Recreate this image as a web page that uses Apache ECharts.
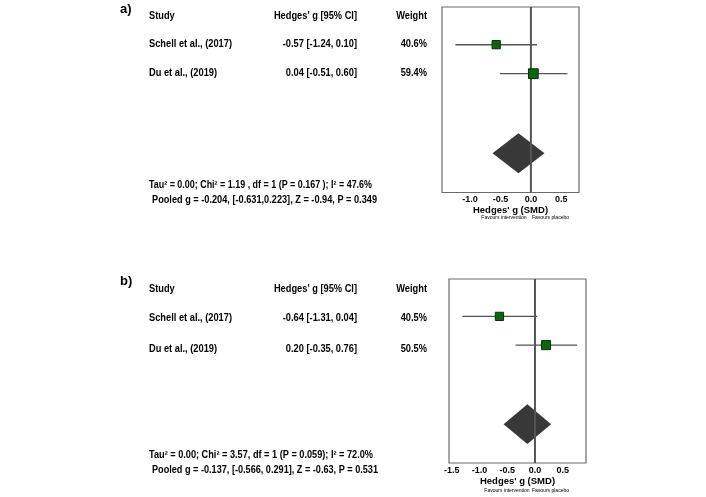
<!DOCTYPE html>
<html><head><meta charset="utf-8">
<script src="https://cdn.jsdelivr.net/npm/echarts@6/dist/echarts.min.js"></script>
<style>html,body{margin:0;padding:0;background:#fff}#c{width:706px;height:497px}</style>
</head><body><div id="c"></div>
<script>
// ---------- data ----------
const studies = ['Schell et al., (2017)', 'Du et al., (2019)'];
const estA = [-0.57, 0.04];
const loA = [-1.24, -0.51];
const hiA = [0.10, 0.60];
const weightA = [40.6, 59.4];
const pooledA = [-0.204, -0.631, 0.223]; // estimate, lower, upper
const hetA = 'Tau² = 0.00; Chi² = 1.19 , df = 1 (P = 0.167 ); I² = 47.6%';
const poolTextA = 'Pooled g = -0.204, [-0.631,0.223], Z = -0.94, P = 0.349';

const estB = [-0.64, 0.20];
const loB = [-1.31, -0.35];
const hiB = [0.04, 0.76];
const weightB = [40.5, 50.5];
const pooledB = [-0.137, -0.566, 0.291];
const hetB = 'Tau² = 0.00; Chi² = 3.57, df = 1 (P = 0.059); I² = 72.0%';
const poolTextB = 'Pooled g = -0.137, [-0.566, 0.291], Z = -0.63, P = 0.531';

const ticksA = [-1.0, -0.5, 0.0, 0.5];
const ticksB = [-1.5, -1.0, -0.5, 0.0, 0.5];
const axisTitle = "Hedges' g (SMD)";
const headers = ['Study', "Hedges' g [95% CI]", 'Weight'];
const favours = ['Favours intervention', 'Favours placebo'];

// ---------- layout ----------
const FAM = '"Liberation Sans", Arial, Helvetica, sans-serif';
const BOLD10 = 'bold 10px ' + FAM;
const ctx = document.createElement('canvas').getContext('2d');
function measure(s, font) { ctx.font = font; return ctx.measureText(s).width; }
const tableSx = 83 / measure(studies[0], BOLD10);

function txt(x, y, s, o) {
  o = o || {};
  const font = o.font || BOLD10;
  let sx = o.sx || 1;
  if (o.w) sx = o.w / measure(s, font);
  return { type: 'text', x: x, y: y, scaleX: sx, silent: true,
    style: { text: s, font: font, fill: '#000', align: o.align || 'left', verticalAlign: 'middle' } };
}
const ciStr = (e, l, h) => e.toFixed(2) + ' [' + l.toFixed(2) + ', ' + h.toFixed(2) + ']';

const rows = [1, 2];
const pooledRow = 4.75;
const diamondHalf = 0.69;

const panels = [
  { est: estA, lo: loA, hi: hiA, w: weightA, pooled: pooledA, ticks: ticksA,
    min: -1.46, max: 0.79, grid: { left: 442, top: 7, width: 137, height: 185.5 } },
  { est: estB, lo: loB, hi: hiB, w: weightB, pooled: pooledB, ticks: ticksB,
    min: -1.55, max: 0.92, grid: { left: 449, top: 279, width: 137, height: 184 } }
];

const grids = [], xAxes = [], yAxes = [], series = [];
panels.forEach((p, i) => {
  grids.push(Object.assign({ show: true, borderColor: '#6a6a6a', borderWidth: 1.2, backgroundColor: '#fff' }, p.grid));
  xAxes.push({ gridIndex: i, type: 'value', min: p.min, max: p.max,
    axisLine: { show: false }, axisTick: { show: false }, splitLine: { show: false },
    axisLabel: { customValues: p.ticks, formatter: v => v.toFixed(1), fontSize: 9, fontWeight: 'bold',
      color: '#000', margin: 3, fontFamily: FAM },
    name: axisTitle, nameLocation: 'middle', nameGap: 10,
    nameTextStyle: { fontWeight: 'bold', fontSize: 9.5, color: '#000', fontFamily: FAM } });
  yAxes.push({ gridIndex: i, type: 'value', min: -0.3, max: 6.1, inverse: true, show: false });

  // confidence interval lines
  series.push({ type: 'custom', xAxisIndex: i, yAxisIndex: i, z: 2, silent: true,
    data: p.est.map((e, k) => [p.lo[k], p.hi[k], rows[k]]),
    encode: { x: [0, 1], y: 2 },
    renderItem: (params, api) => {
      const a = api.coord([api.value(0), api.value(2)]);
      const b = api.coord([api.value(1), api.value(2)]);
      return { type: 'line', shape: { x1: a[0], y1: a[1], x2: b[0], y2: b[1] },
        style: { stroke: '#555', lineWidth: 1.4 } };
    } });
  // pooled diamond
  series.push({ type: 'custom', xAxisIndex: i, yAxisIndex: i, z: 3, silent: true,
    data: [[p.pooled[0], p.pooled[1], p.pooled[2], pooledRow]],
    encode: { x: [0, 1, 2], y: 3 },
    renderItem: (params, api) => {
      const e = api.value(0), l = api.value(1), h = api.value(2), y = api.value(3);
      const pts = [api.coord([l, y]), api.coord([e, y - diamondHalf]), api.coord([h, y]), api.coord([e, y + diamondHalf])];
      return { type: 'polygon', shape: { points: pts }, style: { fill: '#383838' } };
    } });
  // line of no effect
  series.push({ type: 'custom', xAxisIndex: i, yAxisIndex: i, z: 4, silent: true,
    data: [[0]], encode: { x: 0 },
    renderItem: (params, api) => {
      const c = params.coordSys;
      const x = api.coord([0, 0])[0];
      return { type: 'line', shape: { x1: x, y1: c.y, x2: x, y2: c.y + c.height },
        style: { stroke: '#555', lineWidth: 2 } };
    } });
  // study squares
  series.push({ type: 'scatter', xAxisIndex: i, yAxisIndex: i, z: 5, silent: true,
    symbol: 'rect', symbolSize: v => 5 + v[2] * 0.08,
    itemStyle: { color: '#0b670b', borderColor: '#05300a', borderWidth: 1, opacity: 1 },
    data: p.est.map((e, k) => [e, rows[k], p.w[k]]) });
});

// ---------- text table ----------
const g = [];
const tables = [
  { label: 'a)', labelY: 9, headY: 16, rowY: [44, 73], est: estA, lo: loA, hi: hiA, w: weightA,
    het: hetA, pool: poolTextA, hetY: 185.7, poolY: 200.7, hetW: 223, poolW: 225, favY: 218, favX: [504, 550.5] },
  { label: 'b)', labelY: 281, headY: 289, rowY: [318.5, 349], est: estB, lo: loB, hi: hiB, w: weightB,
    het: hetB, pool: poolTextB, hetY: 455.7, poolY: 470.7, hetW: 224, poolW: 226, favY: 490.3, favX: [507, 550.5] }
];
tables.forEach(t => {
  g.push(txt(120, t.labelY, t.label, { font: 'bold 13px ' + FAM }));
  g.push(txt(149, t.headY, headers[0], { sx: tableSx }));
  g.push(txt(357, t.headY, headers[1], { sx: tableSx, align: 'right' }));
  g.push(txt(427, t.headY, headers[2], { sx: tableSx, align: 'right' }));
  studies.forEach((s, k) => {
    g.push(txt(149, t.rowY[k], s, { sx: tableSx }));
    g.push(txt(357, t.rowY[k], ciStr(t.est[k], t.lo[k], t.hi[k]), { sx: tableSx, align: 'right' }));
    g.push(txt(427, t.rowY[k], t.w[k].toFixed(1) + '%', { sx: tableSx, align: 'right' }));
  });
  g.push(txt(149, t.hetY, t.het, { w: t.hetW }));
  g.push(txt(152, t.poolY, t.pool, { w: t.poolW }));
  g.push(txt(t.favX[0], t.favY, favours[0], { font: '5px ' + FAM, align: 'center' }));
  g.push(txt(t.favX[1], t.favY, favours[1], { font: '5px ' + FAM, align: 'center' }));
});

const chart = echarts.init(document.getElementById('c'), null, { renderer: 'canvas' });
chart.setOption({
  animation: false,
  backgroundColor: '#fff',
  grid: grids, xAxis: xAxes, yAxis: yAxes, series: series,
  graphic: { elements: g }
});
</script></body></html>
